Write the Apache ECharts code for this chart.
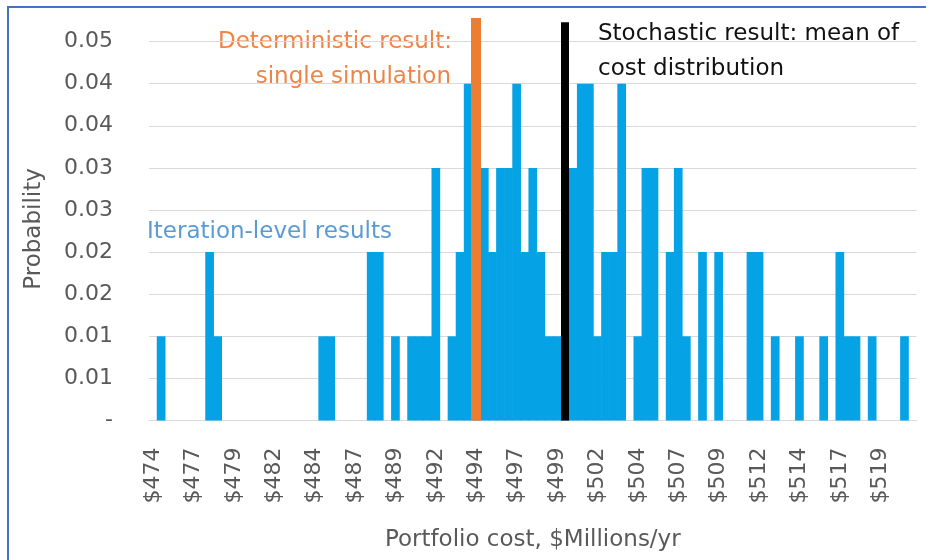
<!DOCTYPE html>
<html>
<head>
<meta charset="utf-8">
<script src="https://cdn.jsdelivr.net/npm/echarts@6/dist/echarts.min.js"></script>
<style>
  html, body { margin: 0; padding: 0; background: #fff; }
  #chart { width: 933px; height: 560px; }
</style>
</head>
<body>
<div id="chart"></div>
<script>
// bin lower bounds, $Millions/yr (0.5 wide bins)
const costBins = [
  474.2, 474.7, 475.2, 475.7, 476.2, 476.7, 477.2, 477.7, 478.2, 478.7,
  479.2, 479.7, 480.2, 480.7, 481.2, 481.7, 482.2, 482.7, 483.2, 483.7,
  484.2, 484.7, 485.2, 485.7, 486.2, 486.7, 487.2, 487.7, 488.2, 488.7,
  489.2, 489.7, 490.2, 490.7, 491.2, 491.7, 492.2, 492.7, 493.2, 493.7,
  494.2, 494.7, 495.2, 495.7, 496.2, 496.7, 497.2, 497.7, 498.2, 498.7,
  499.2, 499.7, 500.2, 500.7, 501.2, 501.7, 502.2, 502.7, 503.2, 503.7,
  504.2, 504.7, 505.2, 505.7, 506.2, 506.7, 507.2, 507.7, 508.2, 508.7,
  509.2, 509.7, 510.2, 510.7, 511.2, 511.7, 512.2, 512.7, 513.2, 513.7,
  514.2, 514.7, 515.2, 515.7, 516.2, 516.7, 517.2, 517.7, 518.2, 518.7,
  519.2, 519.7, 520.2, 520.7, 521.2
];

// probability of each bin (iteration-level results)
const probability = [
  0, 0.01, 0, 0, 0, 0, 0, 0.02, 0.01, 0,
  0, 0, 0, 0, 0, 0, 0, 0, 0, 0,
  0, 0.01, 0.01, 0, 0, 0, 0, 0.02, 0.02, 0,
  0.01, 0, 0.01, 0.01, 0.01, 0.03, 0, 0.01, 0.02, 0.04,
  0.01, 0.03, 0.02, 0.03, 0.03, 0.04, 0.02, 0.03, 0.02, 0.01,
  0.01, 0.01, 0.03, 0.04, 0.04, 0.01, 0.02, 0.02, 0.04, 0,
  0.01, 0.03, 0.03, 0, 0.02, 0.03, 0.01, 0, 0.02, 0,
  0.02, 0, 0, 0, 0.02, 0.02, 0, 0.01, 0, 0,
  0.01, 0, 0, 0.01, 0, 0.02, 0.01, 0.01, 0, 0.01,
  0, 0, 0, 0.01, 0
];

const yTickLabels = ['-', '0.01', '0.01', '0.02', '0.02', '0.03', '0.03', '0.04', '0.04', '0.05'];

const deterministicCost = '494.2';
const meanCost = '499.7';
const deterministicTop = 0.0478;
const meanTop = 0.0473;

const chart = echarts.init(document.getElementById('chart'));
const font = 'DejaVu Sans';

const option = {
  animation: false,
  grid: { left: 149, right: 16.4, top: 16.3, bottom: 139.5 },
  xAxis: {
    type: 'category',
    data: costBins.map(v => v.toFixed(1)),
    name: 'Portfolio cost, $Millions/yr',
    nameLocation: 'middle',
    nameGap: 108,
    nameTextStyle: { color: '#595959', fontSize: 23, fontFamily: font },
    axisLine: { lineStyle: { color: '#d9d9d9', width: 1 } },
    axisTick: { show: false },
    axisLabel: {
      interval: 4,
      rotate: 90,
      margin: 27,
      color: '#595959',
      fontSize: 22,
      fontFamily: font,
      formatter: v => '$' + Math.round(parseFloat(v))
    }
  },
  yAxis: {
    type: 'value',
    min: 0,
    max: 0.048,
    interval: 0.005,
    axisLine: { show: false },
    axisTick: { show: false },
    splitLine: { showMaxLine: false, lineStyle: { color: '#d9d9d9', width: 1 } },
    axisLabel: {
      showMaxLabel: false,
      margin: 36,
      color: '#595959',
      fontSize: 22,
      fontFamily: font,
      formatter: v => yTickLabels[Math.round(v / 0.005)] ?? ''
    }
  },
  series: [
    {
      type: 'bar',
      data: probability,
      barWidth: 8.7,
      itemStyle: { color: '#05a3e6' },
      markLine: {
        silent: true,
        symbol: ['none', 'none'],
        label: { show: false },
        lineStyle: { type: 'solid' },
        data: [
          [
            { coord: [deterministicCost, 0], lineStyle: { color: '#ed7d31', width: 10, type: 'solid' } },
            { coord: [deterministicCost, deterministicTop] }
          ],
          [
            { coord: [meanCost, 0], lineStyle: { color: '#000000', width: 8, type: 'solid' } },
            { coord: [meanCost, meanTop] }
          ]
        ]
      }
    }
  ],
  graphic: [
    {
      type: 'polyline',
      shape: { points: [[8, 560], [8, 7], [926, 7]] },
      style: { stroke: '#4472c4', lineWidth: 2, fill: null }
    },
    {
      type: 'text', x: 34, y: 229, rotation: Math.PI / 2,
      style: { text: 'Probability', fill: '#595959', font: '23px ' + font, align: 'center', verticalAlign: 'middle' }
    },
    {
      type: 'text', x: 452, y: 42,
      style: { text: 'Deterministic result:', fill: '#ee8446', font: '23px ' + font, align: 'right', verticalAlign: 'middle' }
    },
    {
      type: 'text', x: 451, y: 77,
      style: { text: 'single simulation', fill: '#ee8446', font: '23px ' + font, align: 'right', verticalAlign: 'middle' }
    },
    {
      type: 'text', x: 598, y: 34,
      style: { text: 'Stochastic result: mean of', fill: '#111111', font: '23px ' + font, align: 'left', verticalAlign: 'middle' }
    },
    {
      type: 'text', x: 598, y: 69,
      style: { text: 'cost distribution', fill: '#111111', font: '23px ' + font, align: 'left', verticalAlign: 'middle' }
    },
    {
      type: 'text', x: 147, y: 232,
      style: { text: 'Iteration-level results', fill: '#5b9bd5', font: '23px ' + font, align: 'left', verticalAlign: 'middle' }
    }
  ]
};

chart.setOption(option);
</script>
</body>
</html>
